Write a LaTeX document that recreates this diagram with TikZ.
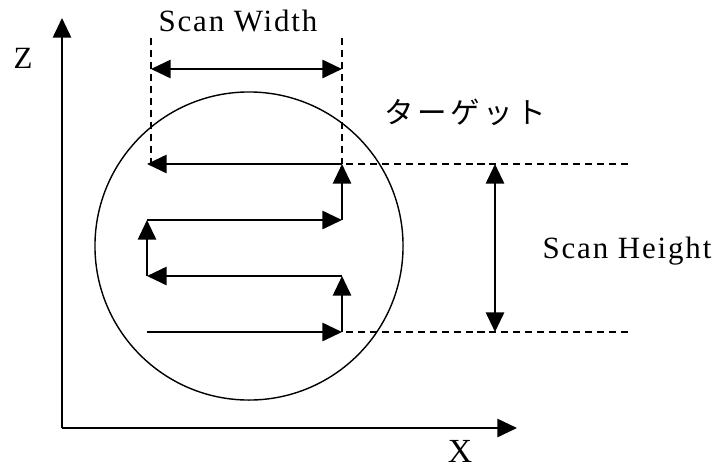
\documentclass[tikz,border=0pt]{standalone}
\usepackage{fontspec}
\setmainfont{Liberation Serif}[LetterSpace=6]
\newfontfamily\jpfont{Noto Sans CJK JP}[LetterSpace=12]
\usetikzlibrary{arrows.meta}

\begin{document}
\begin{tikzpicture}[x=0.025cm, y=-0.025cm,
		flecha/.style={line width=1.5pt, -{Triangle[length=14pt,width=13pt]}},
		doble/.style={line width=1.5pt, {Triangle[length=14pt,width=13pt]}-{Triangle[length=14pt,width=13pt]}},
		guia/.style={line width=0.9pt, dash pattern=on 5pt off 3.5pt},
		texto/.style={inner sep=0pt, font=\fontsize{22}{24}\selectfont}
	]
	\useasboundingbox (0,0) rectangle (720,468);

	%Ejes
		\coordinate (o) at (62,428);
		\coordinate (ze) at (62,18);
		\coordinate (xe) at (517,428);
		\draw[flecha, line width=1.4pt] (o) -- (ze);
		\draw[flecha, line width=1.4pt] (o) -- (xe);
		\node[texto] (lz) at (23,58) {Z};
		\node[texto, font=\fontsize{24}{26}\selectfont] (lx) at (460,451) {X};

	%Objetivo
		\node[circle, draw, line width=1pt, minimum size=7.7cm, inner sep=0pt] (obj) at (249,246) {};
		\node[texto, font=\jpfont\fontsize{21}{24}\selectfont] (lobj) at (465,112) {ターゲット};

	%Recorrido
		\coordinate (p1) at (147,332);
		\coordinate (p2) at (342,332);
		\coordinate (p3) at (342,276);
		\coordinate (p4) at (147,276);
		\coordinate (p5) at (147,220);
		\coordinate (p6) at (342,220);
		\coordinate (p7) at (342,164);
		\coordinate (p8) at (147,164);
		\draw[flecha] (p1) -- (p2);
		\draw[flecha] (p2) -- (p3);
		\draw[flecha] (p3) -- (p4);
		\draw[flecha] (p4) -- (p5);
		\draw[flecha] (p5) -- (p6);
		\draw[flecha] (p6) -- (p7);
		\draw[flecha] (p7) -- (p8);

	%Ancho
		\coordinate (a1) at (151,38);
		\coordinate (a2) at (151,164);
		\coordinate (a3) at (342,38);
		\coordinate (a4) at (342,164);
		\draw[guia] (a1) -- (a2);
		\draw[guia] (a3) -- (a4);
		\coordinate (w1) at (151,69);
		\coordinate (w2) at (342,69);
		\draw[doble] (w1) -- (w2);
		\node[texto] (lw) at (238,21) {Scan Width};

	%Alto
		\coordinate (h1) at (346,164);
		\coordinate (h2) at (632,164);
		\coordinate (h3) at (346,332);
		\coordinate (h4) at (632,332);
		\draw[guia] (h1) -- (h2);
		\draw[guia] (h3) -- (h4);
		\coordinate (v1) at (495,164);
		\coordinate (v2) at (495,332);
		\draw[doble] (v1) -- (v2);
		\node[texto] (lh) at (627,251) {Scan Height};

\end{tikzpicture}
\end{document}
